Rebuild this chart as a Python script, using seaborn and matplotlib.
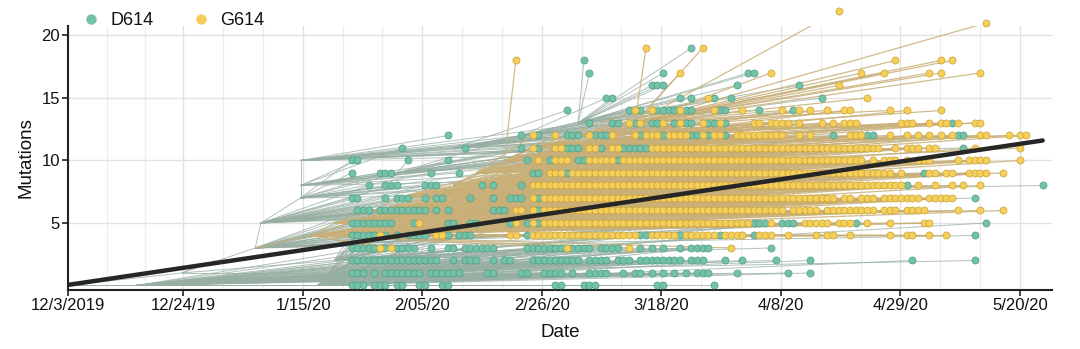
import numpy as np
import pandas as pd
import matplotlib
matplotlib.use("Agg")
import matplotlib.pyplot as plt
from matplotlib.collections import LineCollection
from matplotlib.lines import Line2D
import seaborn as sns

# ---------------- data (x = days since 12/3/2019, y = mutations) ----------------
# tuples (a, b) are runs of consecutive daily samples a..b
d614_m00 = [50, 51, 52, 54, 55, 56, 58, 59, 62, 63, 66, 67, 86, 87, 91, 92, 93, 104, 105, 114]
d614_m01 = [50, 51, 52, 54, 56, 57, 58, 59, 60, 61, 62, 64, 65, 66, 67, 68, 69, 74, 75, 80, 81, 84, 85,
            86, 87, 89, 92, 93, 94, 95, 98, 100, 101, 103, 105, 107, 109, 111, 112, 113, 118, 127, 131]
d614_m02 = [(50, 57), (58, 65), 68, 70, 71, 72, 75, 77, 78, (82, 90), 92, 93, 94, 95, 97, 98, 99, 101,
            102, 103, 104, 105, 106, 107, 108, 110, 111, 112, 116, 119, 125, 131, 149, 160]
d614_m03 = [50, 51, 52, 53, 54, 56, 58, 59, 60, 61, 64, 67, 68, 70, 71, 72, 73, 74, 75, 81, 82, 83, 84,
            85, 86, 87, 89, 90, 91, 92, 94, 95, 96, 97, 101, 103, 105, 108, 110, 111, 112, 113, 124]
d614_m04 = [50, 51, 52, 53, 54, 56, 58, 60, 61, 62, 63, 67, 69, 70, 71, 81, 101, 102, 108, 115, 121, 160]
d614_m05 = [50, 51, 52, 53, 54, 55, 56, 57, 61, 67, 68, 71, 72, 78, 81, 83, 121, 122, 123, 126, 127,
            128, 139, 162]
d614_m06 = [51, 52, 53, 55, 56, 57, 58, 59, 60, 61, 62, 63, 65, 67, 75, 76, 77, 83]
d614_m07 = [50, 51, 56, 58, 59, 60, 63, 65, 66, 71, 75, 78, 79, 80, 83, 160]
d614_m08 = [53, 56, 57, 58, 63, 64, 65, 73, 75, 80, 148, 172]
d614_m09 = [50, 55, 56, 57, 64, 69, 82, 83, 88, 151]
d614_m10 = [50, 51, 60, 67, 81, 85, 90, 91, 97]
d614_m11 = [59, 70, 80, 83, 88, 89, 90, 94, 98, 99, 100, 101, 102, 158]
d614_m12 = [67, 80, 83, 88, 89, 90, 93, 94, 95, 101, 105, 110, 111, 113, 116, 135, 141, 142, 157, 158]
d614_m13 = [92, 96, 97, 100, 103, 104, 107, 109, 110, 113, 114, 116, 156]
d614_m14 = [88, 99, 101, 104, 105, 106, 107, 109, 110, 115, 116, 122, 128]
d614_m15 = [95, 96, 108, 110, 114, 117, 133]
d614_m16 = [103, 104, 105, 118, 129]
d614_m17 = [92, 105, 120, 121]
d614_m18 = [91]
d614_m19 = [110]

g614_m03 = [55, 57, 88, 99, 117]
g614_m04 = [55, 65, 66, 78, 79, (82, 100), (103, 107), (109, 114), 116, 117, 118, 119, 122, 123, 124,
            127, 132, 134, 135, 138, 145, 148, 149, 152, 155]
g614_m05 = [62, 79, 82, (84, 120), 124, (130, 134), (136, 138), 141, 145, 151, 152]
g614_m06 = [79, 80, 82, (84, 126), (128, 132), (134, 139), 140, 141, 142, 144, 145, 146, 148, 149, 150,
            151, 157, 161, 165]
g614_m07 = [82, (84, 135), 137, 138, 140, 141, 142, 144, 145, 146, 147, 148, 149, 150, (152, 156)]
g614_m08 = [(82, 147), 150, 153, 156, 158, 161]
g614_m09 = [(85, 87), (89, 145), 147, 152, 153, 155, 156, 159, 160, 161, 162, 165]
g614_m10 = [83, 86, 87, 88, 92, 93, 94, 95, 96, (98, 140), 142, 144, 145, 146, 148, 150, 151, 152, 157,
            159, 160, 161, 162, 168]
g614_m11 = [82, 86, 87, 92, 93, 96, 97, (103, 139), 140, 141, 142, 143, 146, 148, 149, 150, 152, 153,
            160, 168]
g614_m12 = [82, 86, 92, 96, 100, 102, 103, 104, 106, 107, 108, 109, 112, 114, 115, (118, 126), 129, 131,
            138, 139, 140, 145, 148, 150, 152, 154, 156, 161, 162, 166, 168, 169]
g614_m13 = [99, 101, 105, 108, 112, 115, 121, 122, 124, 125, 126, 127, 129, 133, 135, 137, 138, 139,
            147, 148, 149, 152, 154, 155, 157, 160, 161]
g614_m14 = [100, 103, 108, 114, 119, 126, 129, 131, 134, 137, 138, 145, 148, 154]
g614_m15 = [113, 141]
g614_m16 = [136]
g614_m17 = [108, 124, 140, 144, 152, 154, 161]
g614_m18 = [79, 146, 154, 156]
g614_m19 = [102, 112]
g614_m21 = [162]
g614_m22 = [136]

# unlabelled ancestral (internal) nodes of the tree
d614_node_day = [0, 20, 33, 34, 41, 41, 41, 44, 46, 47, 58, 68, 80, 90, 12, 26]
d614_node_mut = [0, 1, 3, 5, 7, 8, 10, 0, 1, 2, 9, 11, 12, 13, 0, 2]
d614_node_parent = [-1, 0, 1, 2, 3, 4, 4, 0, 1, 1, 5, 6, 11, 12, 0, 1]
d614_node_fan = [0, 0, 1, 1, 1, 1, 1, 1, 1, 1, 1, 1, 1, 1, 1, 0]   # 1 = sampled tips attach here
g614_node_day = [43, 47, 50, 54, 58, 63, 68, 72, 77, 82, 90, 100]
g614_node_mut = [4, 5, 5, 6, 7, 7, 8, 9, 10, 11, 12, 13]
g614_node_parent = [-1, 0, 0, 1, 3, 3, 4, 6, 7, 8, 9, 10]
g614_root_parent = 2  # index of the D614 node the G614 lineage branches from

# root-to-tip trend line
trend_day = [0, 172]
trend_mut = [0.05, 11.6]

tick_pos = [0, 20.3, 41.5, 62.4, 83.6, 104.6, 125.8, 146.9, 168.0]
tick_lab = ['12/3/2019', '12/24/19', '1/15/20', '2/05/20', '2/26/20', '3/18/20', '4/8/20',
            '4/29/20', '5/20/20']
ytick_pos = [5, 10, 15, 20]

# ---------------- assemble ----------------
d614_rows = {0: d614_m00, 1: d614_m01, 2: d614_m02, 3: d614_m03, 4: d614_m04, 5: d614_m05,
             6: d614_m06, 7: d614_m07, 8: d614_m08, 9: d614_m09, 10: d614_m10, 11: d614_m11,
             12: d614_m12, 13: d614_m13, 14: d614_m14, 15: d614_m15, 16: d614_m16, 17: d614_m17,
             18: d614_m18, 19: d614_m19}
g614_rows = {3: g614_m03, 4: g614_m04, 5: g614_m05, 6: g614_m06, 7: g614_m07, 8: g614_m08,
             9: g614_m09, 10: g614_m10, 11: g614_m11, 12: g614_m12, 13: g614_m13, 14: g614_m14,
             15: g614_m15, 16: g614_m16, 17: g614_m17, 18: g614_m18, 19: g614_m19, 21: g614_m21,
             22: g614_m22}


def expand(row):
    out = []
    for v in row:
        if isinstance(v, tuple):
            out.extend(range(v[0], v[1] + 1))
        else:
            out.append(v)
    return out


recs = []
for variant, rows in (("D614", d614_rows), ("G614", g614_rows)):
    for m, row in rows.items():
        for k, d in enumerate(expand(row)):
            recs.append((variant, d, m, k))
df = pd.DataFrame(recs, columns=["variant", "day", "mut", "k"])

all_nodes = {
    "D614": list(zip(d614_node_day, d614_node_mut)),
    "G614": list(zip(g614_node_day, g614_node_mut)),
}
fan_nodes = {
    "D614": [n for n, f in zip(all_nodes["D614"], d614_node_fan) if f],
    "G614": all_nodes["G614"],
}


def parent_of(variant, d, m, k):
    pool = fan_nodes[variant]
    cand = [(nd, nm) for nd, nm in pool if nd < d and m - 3 <= nm <= m - 1]
    if not cand:
        lower = [(nd, nm) for nd, nm in pool if nd < d and nm <= max(m - 1, 0)]
        if lower:
            best = max(nm for _, nm in lower)
            cand = [c for c in lower if c[1] == best]
        else:
            cand = [min(pool, key=lambda c: c[1])]
    return cand[k % len(cand)]


seg_green, seg_tan = [], []
for i, p in enumerate(d614_node_parent):
    if p >= 0:
        seg_green.append([all_nodes["D614"][p], all_nodes["D614"][i]])
for i, p in enumerate(g614_node_parent):
    src = all_nodes["D614"][g614_root_parent] if p < 0 else all_nodes["G614"][p]
    seg_tan.append([src, all_nodes["G614"][i]])
for r in df.itertuples():
    par = parent_of(r.variant, r.day, r.mut, r.k)
    (seg_green if r.variant == "D614" else seg_tan).append([par, (r.day, r.mut)])

# ---------------- plot ----------------
sns.set_style("white")
plt.rcParams['font.family'] = ['Liberation Sans', 'DejaVu Sans']

fig = plt.figure(figsize=(10.8, 3.49), dpi=100)
ax = fig.add_axes([0.0632, 0.1691, 0.9106, 0.7564])

green_fill, green_edge = "#73c2a7", "#4f9c84"
yel_fill, yel_edge = "#f5cf5a", "#c9a235"

minor = []
for a, b in zip(tick_pos[:-1], tick_pos[1:]):
    minor += [a + (b - a) / 3, a + 2 * (b - a) / 3]
for x in minor:
    ax.axvline(x, color="#ededed", lw=0.9, zorder=0)
for x in tick_pos[1:]:
    ax.axvline(x, color="#e2e2e2", lw=1.0, zorder=0)
for y in ytick_pos:
    ax.axhline(y, color="#e2e2e2", lw=1.0, zorder=0)

ax.add_collection(LineCollection(seg_green, colors="#97aea2", linewidths=0.7, alpha=0.75, zorder=1))
ax.add_collection(LineCollection(seg_tan, colors="#c9af78", linewidths=0.9, alpha=0.85, zorder=2))

sns.scatterplot(data=df[df.variant == "D614"], x="day", y="mut", ax=ax, color=green_fill,
                edgecolor=green_edge, linewidth=0.5, s=26, legend=False, zorder=3, clip_on=False)
sns.scatterplot(data=df[df.variant == "G614"], x="day", y="mut", ax=ax, color=yel_fill,
                edgecolor=yel_edge, linewidth=0.5, s=26, legend=False, zorder=3, clip_on=False)

sns.lineplot(x=trend_day, y=trend_mut, ax=ax, color="#262626", lw=3.2, zorder=5)

ax.set_xlim(0, 173.6)
ax.set_ylim(-0.36, 20.76)
ax.set_xticks(tick_pos)
ax.set_xticklabels(tick_lab, fontsize=12)
ax.set_yticks(ytick_pos)
ax.set_yticklabels([str(v) for v in ytick_pos], fontsize=12)
ax.tick_params(axis="both", length=4, width=1.2, color="#222222", pad=2, direction="out",
               labelcolor="#111111")
ax.tick_params(axis="x", bottom=True)
ax.tick_params(axis="y", left=True)
for s in ("top", "right"):
    ax.spines[s].set_visible(False)
for s in ("left", "bottom"):
    ax.spines[s].set_color("#222222")
    ax.spines[s].set_linewidth(1.5)
ax.set_xlabel("Date", fontsize=13.5, labelpad=8, color="#111111")
ax.set_ylabel("Mutations", fontsize=13.5, labelpad=5, color="#111111")

handles = [Line2D([], [], marker="o", ls="", markersize=6.5, markerfacecolor=green_fill,
                  markeredgecolor=green_fill, label="D614"),
           Line2D([], [], marker="o", ls="", markersize=6.5, markerfacecolor=yel_fill,
                  markeredgecolor=yel_fill, label="G614")]
leg = ax.legend(handles=handles, loc="center left", bbox_to_anchor=(-0.003, 1.02), ncol=2,
                frameon=False, fontsize=13, handletextpad=0.1, columnspacing=1.6, borderaxespad=0)
for t in leg.get_texts():
    t.set_color("#111111")

fig.savefig("out.png", dpi=100, facecolor="white")
